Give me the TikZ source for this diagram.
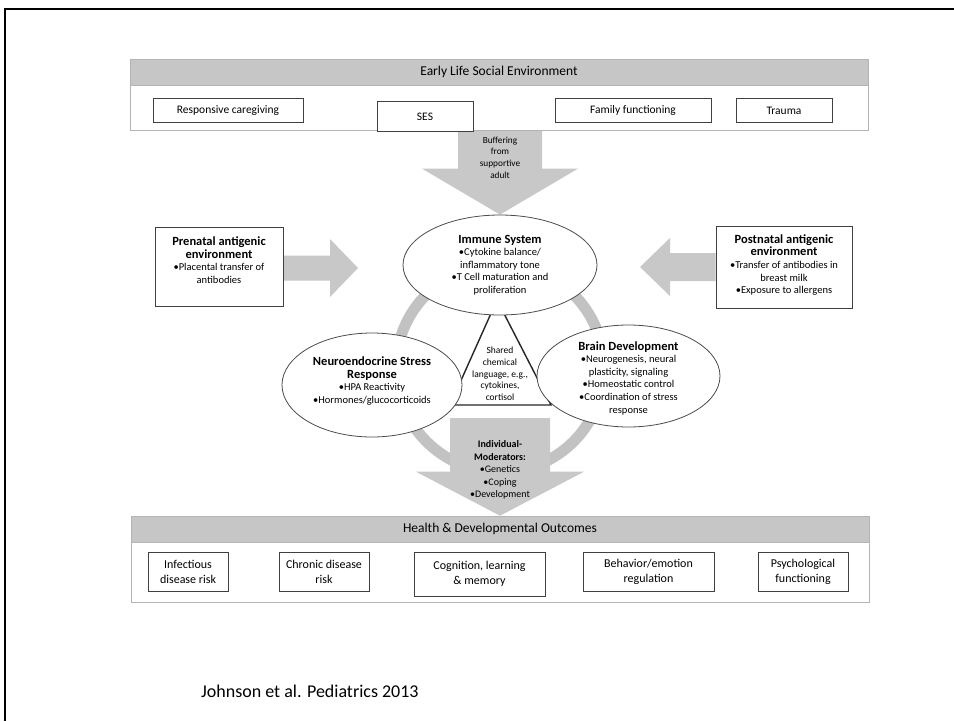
\documentclass[tikz,border=0pt]{standalone}
\usepackage{fontspec}
\setmainfont{Carlito}
\usetikzlibrary{calc,shapes.geometric}
\definecolor{bandgray}{HTML}{C6C6C6}
\definecolor{arrowgray}{HTML}{C8C8C8}
\definecolor{ringgray}{HTML}{C2C2C2}
\definecolor{edgegray}{HTML}{B4B4B4}
\pgfdeclarelayer{paper}
\pgfdeclarelayer{under}
\pgfsetlayers{paper,under,main}

% heading line inside an ellipse or side box
\newcommand{\hd}[1]{{\fontsize{12.5}{14}\selectfont\bfseries #1}}
% block arrow from #1 to #2: shaft half width #3, head half width #4, head length #5
\newcommand{\slidearrow}[5]{%
  \coordinate (sa-h) at ($(#2)!#5!(#1)$);
  \fill[arrowgray] ($(#1)!#3!90:(#2)$) -- ($(sa-h)!#3!90:(#2)$)
    -- ($(sa-h)!#4!90:(#2)$) -- (#2) -- ($(sa-h)!#4!-90:(#2)$)
    -- ($(sa-h)!#3!-90:(#2)$) -- ($(#1)!#3!-90:(#2)$) -- cycle;}

\tikzset{
  band/.style={fill=bandgray, draw=edgegray, line width=0.6pt,
    minimum width=738pt, minimum height=26pt, inner sep=0pt,
    font=\fontsize{13.5}{15}\selectfont},
  panel/.style={fill=white, draw=edgegray, line width=0.8pt,
    minimum width=738pt, inner sep=0pt},
  factor/.style={draw=black!75, line width=0.7pt, fill=white, inner sep=0pt,
    align=center, font=\fontsize{11.5}{15}\selectfont},
  outcome/.style={factor, font=\fontsize{12}{15}\selectfont},
  system/.style={ellipse, draw=black!70, line width=0.8pt, fill=white,
    inner sep=0pt},
  sidebox/.style={draw=black!75, line width=0.8pt, fill=white, inner sep=0pt},
  bodytext/.style={align=center, inner sep=0pt, font=\fontsize{10.5}{12.6}\selectfont},
}

\begin{document}
\begin{tikzpicture}[x=1pt,y=-1pt]
\begin{pgfonlayer}{paper}
  \fill[white] (0,0) rectangle (954,721);
\end{pgfonlayer}
\useasboundingbox (0,0) rectangle (954,721);

% slide frame
\draw[line width=2.2pt] (5,721) -- (5,9) -- (954,9);

% early life social environment
\node[band] (topband) at (499,72) {Early Life Social Environment};
\node[panel, minimum height=45pt, anchor=north] (toppanel) at (topband.south) {};
\node[factor, minimum width=150pt, minimum height=24pt] (care) at (228,110.5) {Responsive caregiving};
\node[factor, minimum width=96pt, minimum height=30pt] (ses) at (425,116.5) {SES};
\node[factor, minimum width=156pt, minimum height=24pt] (family) at (633,110.5) {Family functioning};
\node[factor, minimum width=96pt, minimum height=24pt] (trauma) at (784,110.5) {Trauma};

% the three interacting systems
\node[system, minimum width=194pt, minimum height=100pt] (immune) at (500,265) {};
\node[bodytext] (immunetext) at (immune.center)
  {\hd{Immune System}\\ •Cytokine balance/\\ inflammatory tone\\ •T Cell maturation and\\ proliferation};
\node[system, minimum width=180pt, minimum height=104pt] (neuro) at (372,385) {};
\node[bodytext] (neurotext) at (372,381)
  {\hd{Neuroendocrine Stress}\\ \hd{Response}\\ •HPA Reactivity\\ •Hormones/glucocorticoids};
\node[system, minimum width=183pt, minimum height=102pt] (brain) at (628.5,376) {};
\node[bodytext] (braintext) at (628.5,378)
  {\hd{Brain Development}\\ •Neurogenesis, neural\\ plasticity, signaling\\ •Homeostatic control\\ •Coordination of stress\\ response};

% shared language in the middle
\coordinate (triTop) at (497,300);
\coordinate (triLeft) at (450,405);
\coordinate (triRight) at (551,405);
\node[bodytext, font=\fontsize{9.5}{11.7}\selectfont] (shared) at (500,374)
  {Shared\\ chemical\\ language, e.g.,\\ cytokines,\\ cortisol};

% prenatal and postnatal influences
\node[sidebox, minimum width=128pt, minimum height=79pt] (prenatal) at (219,266.5) {};
\node[bodytext] (prenataltext) at (219,260)
  {\hd{Prenatal antigenic}\\ \hd{environment}\\ •Placental transfer of\\ antibodies};
\node[sidebox, minimum width=136pt, minimum height=82pt] (postnatal) at (784,267) {};
\node[bodytext] (postnataltext) at (784,265)
  {\hd{Postnatal antigenic}\\ \hd{environment}\\ •Transfer of antibodies in\\ breast milk\\ •Exposure to allergens};

% health and developmental outcomes
\node[band] (bottomband) at (500,529) {Health \& Developmental Outcomes};
\node[panel, minimum height=60pt, anchor=north] (bottompanel) at (bottomband.south) {};
\node[outcome, minimum width=80pt, minimum height=39pt] (infect) at (188,571.5) {Infectious\\ disease risk};
\node[outcome, minimum width=90pt, minimum height=39pt] (chronic) at (324,571.5) {Chronic disease\\ risk};
\node[outcome, minimum width=131pt, minimum height=44pt] (cognition) at (479.5,574) {Cognition, learning\\ \& memory};
\node[outcome, minimum width=131pt, minimum height=39pt] (behavior) at (648.5,571.5) {Behavior/emotion\\ regulation};
\node[outcome, minimum width=90pt, minimum height=39pt] (psych) at (803,571.5) {Psychological\\ functioning};

% block arrows, ring and triangle behind the systems
\coordinate (bufStart) at (toppanel.south -| immune.north);
\coordinate (preTip) at (358,268);
\coordinate (preStart) at (prenatal.east |- preTip);
\coordinate (postTip) at (640,267);
\coordinate (postStart) at (postnatal.west |- postTip);
\coordinate (modStart) at (500,418);
\begin{pgfonlayer}{under}
  \draw[ringgray, line width=11pt] (500,368) circle[radius=104pt];
  \draw[line width=1.4pt, black!85] (triTop) -- (triLeft) -- (triRight) -- cycle;
  \slidearrow{bufStart}{immune.north}{42pt}{78pt}{46pt}
  \slidearrow{preStart}{preTip}{12.5pt}{29pt}{28pt}
  \slidearrow{postStart}{postTip}{14pt}{29pt}{30pt}
  \slidearrow{modStart}{bottomband.north}{50pt}{84pt}{44pt}
\end{pgfonlayer}

\node[bodytext, font=\fontsize{9.3}{11.7}\selectfont] (buffer) at (500,157.5)
  {Buffering\\ from\\ supportive\\ adult};
\node[bodytext, font=\fontsize{10}{12.5}\selectfont] (moderators) at (500,470)
  {\textbf{Individual-}\\ \textbf{Moderators:}\\ •Genetics\\ •Coping\\ •Development};

% citation
\node[font=\fontsize{18}{21}\selectfont, anchor=west, inner sep=0pt] (cite) at (201,691)
  {Johnson et al. Pediatrics 2013};
\end{tikzpicture}
\end{document}
